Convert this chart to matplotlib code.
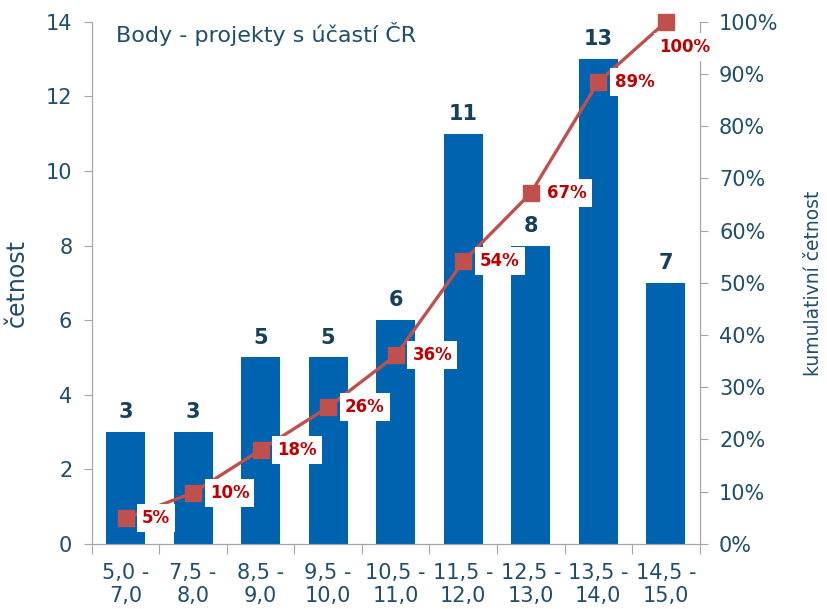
import matplotlib
matplotlib.use("Agg")
import matplotlib.pyplot as plt
import numpy as np

categories = ["5,0 -\n7,0", "7,5 -\n8,0", "8,5 -\n9,0", "9,5 -\n10,0", "10,5 -\n11,0",
              "11,5 -\n12,0", "12,5 -\n13,0", "13,5 -\n14,0", "14,5 -\n15,0"]
counts = [3, 3, 5, 5, 6, 11, 8, 13, 7]
cum_pct = [4.9, 9.8, 18.0, 26.2, 36.1, 54.1, 67.2, 88.5, 100.0]
cum_labels = ["5%", "10%", "18%", "26%", "36%", "54%", "67%", "89%", "100%"]

txt = "#1F4E6B"
bar_c = "#0063AF"
line_c = "#C0504D"
lab_c = "#C00000"
spine_c = "#A6A6A6"

plt.rcParams['font.family'] = ['DejaVu Sans']
fig = plt.figure(figsize=(8.27, 6.09), dpi=100)
ax = fig.add_axes([0.111, 0.107, 0.735, 0.857])
ax2 = ax.twinx()

x = np.arange(len(categories))
ax.bar(x, counts, width=0.58, color=bar_c, zorder=2)
for xi, c in zip(x, counts):
    ax.annotate(str(c), (xi, c), xytext=(0, 7), textcoords="offset points",
                ha="center", va="bottom", fontsize=15, fontweight="bold", color="#17405A")

ax.set_xlim(-0.5, len(categories) - 0.5)
ax.set_ylim(0, 14)
ax.set_yticks(range(0, 15, 2))
ax.set_xticks(np.arange(-0.5, len(categories), 1.0))
ax.set_xticklabels([])
ax.set_xticks(x, minor=True)
ax.set_xticklabels(categories, minor=True, linespacing=1.15)
ax.tick_params(axis="x", which="major", length=7, color=spine_c, direction="out")
ax.tick_params(axis="x", which="minor", length=0, labelsize=15, labelcolor=txt, pad=14)
ax.tick_params(axis="y", length=6, color=spine_c, labelsize=15, labelcolor=txt, pad=8)
ax.set_ylabel("četnost", fontsize=17, color=txt, labelpad=12)

ax2.plot(x, cum_pct, color=line_c, lw=2.4, marker="s", markersize=11.5,
         markerfacecolor=line_c, markeredgecolor=line_c, zorder=3, clip_on=False)
ax2.set_ylim(0, 100)
ax2.set_yticks(range(0, 101, 10))
ax2.set_yticklabels([f"{v}%" for v in range(0, 101, 10)])
ax2.tick_params(axis="y", length=6, color=spine_c, labelsize=15, labelcolor=txt, pad=8)
ax2.set_ylabel("kumulativní četnost", fontsize=13.5, color=txt, labelpad=18)

for i, (xi, v, l) in enumerate(zip(x, cum_pct, cum_labels)):
    if i == len(x) - 1:
        off = (-5, -18)
    else:
        off = (12, 0)
    ax2.annotate(l, (xi, v), xytext=off, textcoords="offset points", ha="left", va="center",
                 fontsize=12, fontweight="bold", color=lab_c, zorder=4,
                 bbox=dict(boxstyle="square,pad=0.3", fc="white", ec="none"),
                 annotation_clip=False)

for a in (ax, ax2):
    a.spines["top"].set_visible(False)
    for s in ("left", "right", "bottom"):
        a.spines[s].set_color(spine_c)
ax.text(0.04, 0.962, "Body - projekty s účastí ČR", transform=ax.transAxes,
        fontsize=16, color=txt, ha="left", va="baseline")

fig.savefig("out.png", dpi=100)
